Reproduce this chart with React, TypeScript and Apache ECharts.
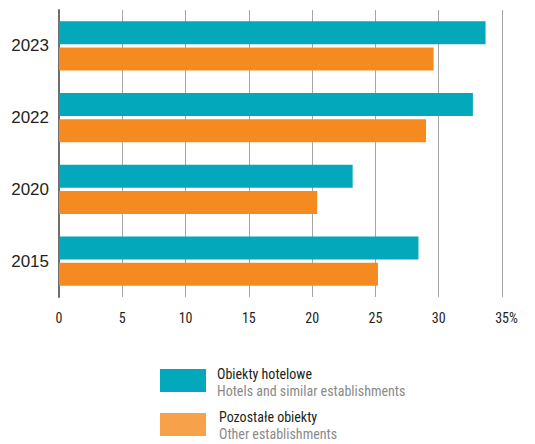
import React, { useEffect, useRef } from "react";
import * as echarts from "echarts";

const categories = ["2023", "2022", "2020", "2015"];
const hotels = [33.7, 32.7, 23.2, 28.4];
const others = [29.6, 29.0, 20.4, 25.2];
const xTicks = [0, 5, 10, 15, 20, 25, 30, 35];

const TEAL = "#03a8ba";
const ORANGE = "#f58b20";
const ORANGE_LEGEND = "#f7a24b";
const NARROW = "'Liberation Sans Narrow', 'Roboto Condensed', 'Liberation Sans', sans-serif";

export default function App() {
  const ref = useRef<HTMLDivElement>(null);
  useEffect(() => {
    if (!ref.current) return;
    const chart = echarts.init(ref.current, null, { renderer: "svg" });
    const legendText = (x: number, y: number, text: string, fill: string) => ({
      type: "text",
      x,
      y,
      style: {
        text,
        font: `14px ${NARROW}`,
        fill,
        verticalAlign: "middle",
        lineHeight: 14,
      },
    });
    chart.setOption({
      animation: false,
      backgroundColor: "#ffffff",
      grid: { left: 59, right: 33, top: 10, bottom: 147, containLabel: false },
      xAxis: {
        type: "value",
        min: xTicks[0],
        max: xTicks[xTicks.length - 1],
        interval: 5,
        axisLine: { show: false },
        axisTick: { show: false },
        splitLine: { show: true, lineStyle: { color: "#a6a6a6", width: 1 } },
        axisLabel: {
          margin: 14,
          fontFamily: NARROW,
          fontSize: 14,
          color: "#231f20",
          formatter: (v: number) => (v === 35 ? "{s|}35%" : String(v)),
          rich: { s: { width: 9 } },
        },
      },
      yAxis: {
        type: "category",
        data: categories,
        inverse: true,
        axisLine: { show: true, lineStyle: { color: "#6d6d6d", width: 2 } },
        axisTick: { show: false },
        axisLabel: {
          margin: 10,
          fontFamily: "'Liberation Sans', Arial, sans-serif",
          fontSize: 17,
          color: "#231f20",
        },
      },
      series: [
        {
          name: "Obiekty hotelowe",
          type: "bar",
          data: hotels,
          barWidth: 23,
          barGap: "15%",
          itemStyle: { color: TEAL },
        },
        {
          name: "Pozostałe obiekty",
          type: "bar",
          data: others,
          barWidth: 23,
          barGap: "15%",
          itemStyle: { color: ORANGE },
        },
      ],
      graphic: [
        { type: "rect", shape: { x: 160, y: 369, width: 46, height: 23 }, style: { fill: TEAL } },
        { type: "rect", shape: { x: 160, y: 413, width: 46, height: 23 }, style: { fill: ORANGE_LEGEND } },
        legendText(217, 374, "Obiekty hotelowe", "#231f20"),
        legendText(217, 391, "Hotels and similar establishments", "#8a8a8a"),
        legendText(219, 417, "Pozostałe obiekty", "#231f20"),
        legendText(219, 434, "Other establishments", "#8a8a8a"),
      ],
    });
    return () => chart.dispose();
  }, []);
  return (
    <div
      ref={ref}
      style={{ position: "absolute", left: 0, top: 0, width: 535, height: 444 }}
    />
  );
}
